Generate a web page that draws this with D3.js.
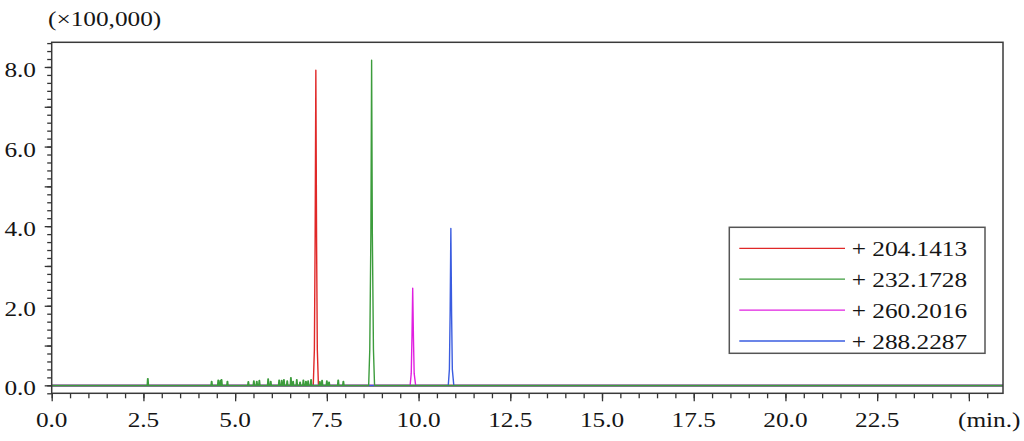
<!DOCTYPE html>
<html><head><meta charset="utf-8">
<script src="https://cdn.jsdelivr.net/npm/d3@7"></script>
<style>
html,body{margin:0;padding:0;background:#fff;}
svg{display:block;}
text{font-family:"Liberation Serif","Times New Roman",serif;fill:#151515;}
</style></head>
<body><svg id="chart" width="1024" height="441"></svg>
<script>
// ---- data ----
const seriesNames = ["+ 204.1413", "+ 232.1728", "+ 260.2016", "+ 288.2287"];
const seriesColors = ["#e02828", "#3c9c3c", "#e020e0", "#3a5ce0"];
const xTickLabels = ["0.0","2.5","5.0","7.5","10.0","12.5","15.0","17.5","20.0","22.5"];
const yTickLabels = ["0.0","2.0","4.0","6.0","8.0"];
const yUnitLabel = "(×100,000)";
const xUnitLabel = "(min.)";
// peak profiles: [time (min), intensity (x100,000)]
const redPeak = [[7.13,0],[7.16,0.9],[7.18,3.6],[7.20,7.92],[7.22,3.6],[7.24,0.9],[7.27,0]];
const greenPeak = [[8.64,0],[8.67,0.9],[8.70,3.8],[8.72,8.17],[8.74,3.8],[8.77,0.9],[8.80,0]];
const magentaPeak = [[9.77,0],[9.80,0.3],[9.82,1.2],[9.84,2.44],[9.86,1.2],[9.88,0.3],[9.92,0]];
const bluePeak = [[10.81,0],[10.84,0.4],[10.86,1.8],[10.88,3.94],[10.90,1.8],[10.92,0.4],[10.96,0]];
// small noise spikes on green trace: [time, height]
const greenNoise = [[2.62,0.17],[4.36,0.10],[4.54,0.13],[4.60,0.12],[4.63,0.14],[4.79,0.10],
  [5.36,0.09],[5.51,0.11],[5.59,0.10],[5.66,0.12],[5.90,0.16],[5.97,0.10],[6.20,0.13],[6.27,0.12],
  [6.33,0.14],[6.42,0.11],[6.52,0.19],[6.58,0.10],[6.68,0.14],[6.77,0.08],[6.86,0.13],[6.93,0.10],
  [6.99,0.11],[7.07,0.14],[7.31,0.09],[7.37,0.12],[7.50,0.11],[7.56,0.08],[7.81,0.13],[7.95,0.10]];
const xMax = 25.93, yMin = -0.2, yMax = 8.62;

// ---- layout ----
const L = 51.7, R = 1003, T = 42.3, B = 393.3;
const svg = d3.select("#chart");
const x = d3.scaleLinear().domain([0, xMax]).range([L, R]);
const y = d3.scaleLinear().domain([yMin, yMax]).range([B, T]);
const SX = 1.15, FS = 22;

function build(peak, noise){
  const merged = peak.slice();
  (noise||[]).forEach(n => {
    merged.push([n[0]-0.018,0],[n[0]-0.006,n[1]],[n[0]+0.006,n[1]],[n[0]+0.018,0]);
  });
  merged.sort((a,b)=>a[0]-b[0]);
  return [[0,0]].concat(merged, [[xMax,0]]);
}
const series = [
  {name:seriesNames[0], color:seriesColors[0], data:build(redPeak)},
  {name:seriesNames[2], color:seriesColors[2], data:build(magentaPeak)},
  {name:seriesNames[3], color:seriesColors[3], data:build(bluePeak)},
  {name:seriesNames[1], color:seriesColors[1], data:build(greenPeak, greenNoise)}
];

const line = d3.line().x(d=>x(d[0])).y(d=>y(d[1]));
svg.append("defs").append("clipPath").attr("id","clip")
  .append("rect").attr("x",L).attr("y",T).attr("width",R-L).attr("height",B-T);
// zero line
svg.append("line").attr("x1",L).attr("x2",R).attr("y1",y(0)+1).attr("y2",y(0)+1)
  .attr("stroke","#7a7a86").attr("stroke-width",1.1);
const g = svg.append("g").attr("clip-path","url(#clip)");
series.forEach(s=>{
  g.append("path").attr("d",line(s.data)).attr("fill","none")
    .attr("stroke",s.color).attr("stroke-width",1.4).attr("stroke-linejoin","round");
});

// frame
svg.append("rect").attr("x",L).attr("y",T).attr("width",R-L).attr("height",B-T)
  .attr("fill","none").attr("stroke","#3a3a3a").attr("stroke-width",1.5);

// x axis ticks
const xMajor = d3.range(0, 25.01, 2.5);
const xMinor = d3.range(0, 25.51, 0.5);
const xAxMinor = d3.axisBottom(x).tickValues(xMinor).tickSize(5).tickFormat("");
const xAxMajor = d3.axisBottom(x).tickValues(xMajor).tickSize(8).tickFormat("");
[xAxMinor, xAxMajor].forEach(ax=>{
  const a = svg.append("g").attr("transform",`translate(0,${B})`).call(ax);
  a.select(".domain").remove();
  a.selectAll("line").attr("stroke","#333").attr("stroke-width",1.3);
});
xTickLabels.forEach((lab,i)=>{
  svg.append("text").attr("transform",`translate(${x(xMajor[i])},427) scale(${SX},1)`)
    .attr("text-anchor","middle").attr("font-size",FS).text(lab);
});
svg.append("text").attr("transform",`translate(958,427) scale(${SX},1)`)
  .attr("text-anchor","start").attr("font-size",FS).text(xUnitLabel);

// y axis ticks
const yMajor = [0,2,4,6,8];
const yMid = [1,3,5,7];
const yMinor = d3.range(-0.2, 8.61, 0.2);
const yAxes = [
  d3.axisLeft(y).tickValues(yMinor).tickSize(4.5).tickFormat(""),
  d3.axisLeft(y).tickValues(yMid.concat(yMajor)).tickSize(7).tickFormat("")
];
yAxes.forEach(ax=>{
  const a = svg.append("g").attr("transform",`translate(${L},0)`).call(ax);
  a.select(".domain").remove();
  a.selectAll("line").attr("stroke","#333").attr("stroke-width",1.3);
});
yTickLabels.forEach((lab,i)=>{
  svg.append("text").attr("transform",`translate(36,${y(yMajor[i])+10}) scale(${SX},1)`)
    .attr("text-anchor","end").attr("font-size",FS).text(lab);
});
svg.append("text").attr("transform",`translate(48,26) scale(${SX},1)`)
  .attr("font-size",FS).text(yUnitLabel);

// legend
const lg = svg.append("g");
lg.append("rect").attr("x",729.3).attr("y",227.3).attr("width",255.7).attr("height",126)
  .attr("fill","#fff").attr("stroke","#555").attr("stroke-width",1.5);
[0,1,2,3].forEach((k,i)=>{
  const yy = 248.3 + i*30.9;
  lg.append("line").attr("x1",739.3).attr("x2",845).attr("y1",yy).attr("y2",yy)
    .attr("stroke",seriesColors[k]).attr("stroke-width",1.3);
  lg.append("text").attr("transform",`translate(851.7,${yy+8}) scale(${SX},1)`)
    .attr("font-size",FS).text(seriesNames[k]);
});
</script></body></html>
